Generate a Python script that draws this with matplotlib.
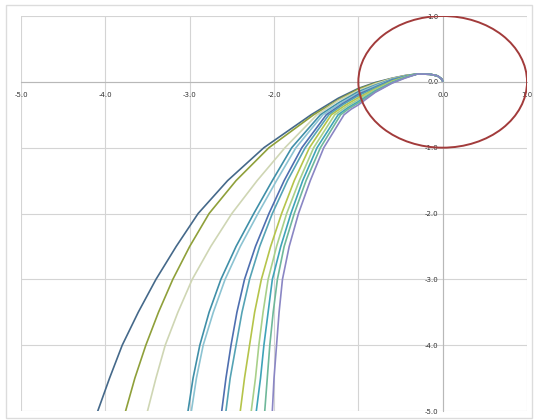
import matplotlib
matplotlib.use("Agg")
import matplotlib.pyplot as plt
from matplotlib.patches import Circle, Rectangle

# ticks shared by both axes
TICKS = [-5, -4, -3, -2, -1, 0, 1]
TICK_LABELS = ["-5.0", "-4.0", "-3.0", "-2.0", "-1.0", "0.0", "1.0"]

CIRCLE_RADIUS = 1.0

# lower part of each curve: x where it crosses these y levels
Y_LEVELS = [-5.0, -4.5, -4.0, -3.5, -3.0, -2.5, -2.0, -1.5, -1.0, -0.5]
# upper part: y where it crosses these x levels
X_LEVELS = [-1.0, -0.8, -0.6, -0.45]
# common tail near the origin (x, y)
TAIL_X = [-0.3, -0.15, -0.06, -0.01, 0.0]
TAIL_Y = [0.12, 0.115, 0.09, 0.04, 0.01]

colors = ["#45698a", "#8fa03a", "#cfd6b4", "#3f8fa8", "#8cc3d2", "#4f6fb0",
          "#55a3b5", "#b5c44a", "#a9d08a", "#3fa3b8", "#6fb89a", "#8a86c4"]
x_at_y = [
    [-4.09, -3.95, -3.80, -3.61, -3.40, -3.16, -2.90, -2.55, -2.12, -1.56],
    [-3.76, -3.65, -3.52, -3.37, -3.20, -3.00, -2.77, -2.45, -2.06, -1.53],
    [-3.50, -3.40, -3.29, -3.14, -2.97, -2.75, -2.50, -2.20, -1.87, -1.49],
    [-3.02, -2.96, -2.88, -2.77, -2.63, -2.45, -2.24, -2.02, -1.79, -1.45],
    [-2.98, -2.92, -2.84, -2.72, -2.58, -2.40, -2.19, -1.97, -1.74, -1.42],
    [-2.62, -2.57, -2.51, -2.44, -2.35, -2.22, -2.06, -1.88, -1.67, -1.38],
    [-2.57, -2.52, -2.45, -2.38, -2.29, -2.17, -2.02, -1.84, -1.63, -1.35],
    [-2.40, -2.35, -2.29, -2.23, -2.15, -2.04, -1.91, -1.76, -1.58, -1.32],
    [-2.27, -2.22, -2.18, -2.13, -2.07, -1.97, -1.85, -1.70, -1.53, -1.28],
    [-2.21, -2.16, -2.12, -2.07, -2.02, -1.92, -1.80, -1.66, -1.49, -1.24],
    [-2.11, -2.08, -2.05, -2.01, -1.96, -1.88, -1.76, -1.62, -1.45, -1.21],
    [-2.02, -2.00, -1.97, -1.94, -1.90, -1.82, -1.71, -1.57, -1.41, -1.17],
]
# one extra point per curve between the y=-0.5 crossing and x=-1
knee_x = [-1.24, -1.22, -1.245, -1.23, -1.21, -1.19, -1.18, -1.16, -1.14, -1.12, -1.105, -1.085]
knee_y = [-0.25, -0.26, -0.29, -0.315, -0.325, -0.335, -0.345, -0.36, -0.375, -0.39, -0.40, -0.415]
y_at_x = [
    [-0.10, -0.01, 0.055, 0.095],
    [-0.11, -0.02, 0.05, 0.092],
    [-0.13, -0.03, 0.05, 0.09],
    [-0.15, -0.05, 0.04, 0.085],
    [-0.17, -0.06, 0.035, 0.083],
    [-0.19, -0.08, 0.03, 0.08],
    [-0.21, -0.09, 0.02, 0.077],
    [-0.24, -0.11, 0.01, 0.073],
    [-0.27, -0.12, 0.00, 0.07],
    [-0.30, -0.14, -0.01, 0.065],
    [-0.32, -0.15, -0.015, 0.06],
    [-0.35, -0.16, -0.02, 0.055],
]

plt.rcParams["axes.unicode_minus"] = False

fig = plt.figure(figsize=(5.35, 4.2), dpi=100, facecolor="white")
fig.patches.append(Rectangle((0.012, 0.005), 0.983, 0.982, transform=fig.transFigure,
                             facecolor="none", edgecolor="#dcdcdc", linewidth=1.0))

ax = fig.add_axes([0.0393, 0.0214, 0.9458, 0.9405])
ax.set_xlim(-5, 1)
ax.set_ylim(-5, 1)

for col, xs, kx, ky, ys in zip(colors, x_at_y, knee_x, knee_y, y_at_x):
    px = xs + [kx] + X_LEVELS + TAIL_X
    py = Y_LEVELS + [ky] + ys + TAIL_Y
    ax.plot(px, py, color=col, linewidth=1.2, zorder=3,
            solid_capstyle="round", solid_joinstyle="round")

ax.add_patch(Circle((0, 0), CIRCLE_RADIUS, facecolor="none", edgecolor="#a23b3b",
                    linewidth=1.4, zorder=4))

ax.set_xticks(TICKS)
ax.set_yticks(TICKS)
ax.set_xticklabels(TICK_LABELS)
ax.set_yticklabels(TICK_LABELS)
ax.grid(True, color="#d4d4d4", linewidth=0.8, zorder=0)
ax.set_axisbelow(True)

ax.spines["left"].set_position("zero")
ax.spines["bottom"].set_position("zero")
ax.spines[["left", "bottom"]].set_color("#b8b8b8")
ax.spines[["left", "bottom"]].set_linewidth(0.8)
ax.spines[["top", "right"]].set_visible(False)
ax.tick_params(length=0, labelsize=5, colors="#333333")
ax.tick_params(axis="x", pad=7)
ax.tick_params(axis="y", pad=3)

fig.savefig("out.png", dpi=100, facecolor="white")
